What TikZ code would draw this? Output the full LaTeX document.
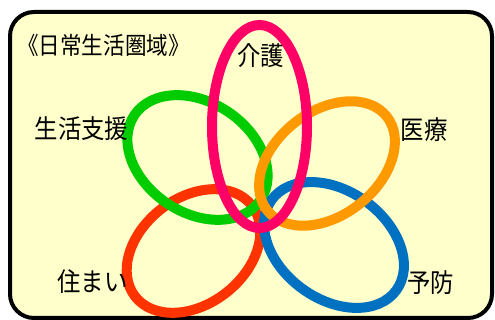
\documentclass[tikz,border=0pt]{standalone}
\usepackage{fontspec}
\newfontfamily\jpfont[FakeStretch=0.9]{Noto Sans CJK JP}
\definecolor{bgyellow}{HTML}{FFFFCC}
\definecolor{ringpink}{HTML}{FF0066}
\definecolor{ringgreen}{HTML}{00CC00}
\definecolor{ringorange}{HTML}{FF9900}
\definecolor{ringred}{HTML}{FF3300}
\definecolor{ringblue}{HTML}{0070C0}

\begin{document}
\begin{tikzpicture}[x=1pt, y=1pt]
    \tikzstyle{ring} = [line width=10pt]
    \tikzstyle{lbl} = [inner sep=0pt, font=\jpfont\fontsize{26}{26}\selectfont]
    \tikzstyle{ttl} = [inner sep=0pt, font=\jpfont\fontsize{24}{24}\selectfont]

    \useasboundingbox (0,0) rectangle (495,320);

    % Frame
    \draw[line width=4pt, fill=bgyellow, rounded corners=24pt] (10,2) rectangle (492,308);

    % Rings
    \draw[ring, ringred, rotate around={38:(193.5,69)}] (193.5,69) ellipse [x radius=74, y radius=53];
    \draw[ring, ringgreen, rotate around={-34:(197.5,162.5)}] (197.5,162.5) ellipse [x radius=76, y radius=55];
    \draw[ring, ringblue, rotate around={-36:(334,75)}] (334,75) ellipse [x radius=77, y radius=54];
    \draw[ring, ringorange, rotate around={38:(327,156.5)}] (327,156.5) ellipse [x radius=76, y radius=52];
    \draw[ring, ringpink] (259.5,193.5) ellipse [x radius=47.5, y radius=101.5];

    % Labels
    \node[ttl] (area) at (103.5,275) {《日常生活圏域》};
    \node[lbl] (kaigo) at (260.5,264) {介護};
    \node[lbl] (seikatsu) at (81.5,191) {生活支援};
    \node[lbl] (iryo) at (424,190) {医療};
    \node[lbl] (sumai) at (92.5,38) {住まい};
    \node[lbl] (yobo) at (430.5,37.5) {予防};
\end{tikzpicture}
\end{document}
